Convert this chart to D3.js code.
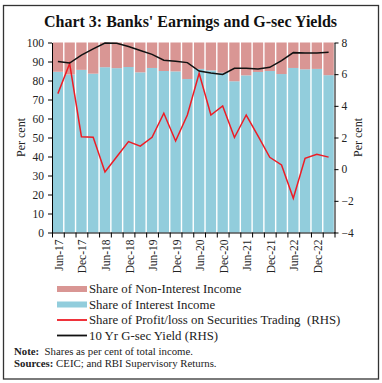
<!DOCTYPE html>
<html lang="en">
<head>
<meta charset="UTF-8">
<title>Chart 3</title>
<script src="https://cdn.jsdelivr.net/npm/d3@7"></script>
<style>
    body { margin: 0; background: #fff; }
    text { font-family: "Liberation Serif", serif; fill: #222; }
    .axis path, .axis line { stroke: #000; stroke-width: 1px; }
    .axis text { font-family: "Liberation Serif", serif; font-size: 11.5px; fill: #222; }
</style>
</head>
<body>
<script>
    // quarters (x axis)
    var quarters = ["Jun-17","Sep-17","Dec-17","Mar-18","Jun-18","Sep-18","Dec-18","Mar-19",
                    "Jun-19","Sep-19","Dec-19","Mar-20","Jun-20","Sep-20","Dec-20","Mar-21",
                    "Jun-21","Sep-21","Dec-21","Mar-22","Jun-22","Sep-22","Dec-22","Mar-23"];
    // share of interest income (per cent)
    var interestShare = [84.6, 83.2, 85.6, 83.6, 87.0, 86.5, 87.1, 84.3, 86.6, 85.0, 84.8, 80.8,
                         86.1, 85.3, 84.1, 79.6, 82.7, 84.5, 85.0, 83.4, 86.6, 85.9, 86.1, 82.8];
    // share of non-interest income (per cent)
    var nonInterestShare = [15.4, 16.8, 14.4, 16.4, 13.0, 13.5, 12.9, 15.7, 13.4, 15.0, 15.2, 19.2,
                            13.9, 14.7, 15.9, 20.4, 17.3, 15.5, 15.0, 16.6, 13.4, 14.1, 13.9, 17.2];
    // share of profit/loss on securities trading (RHS)
    var tradingShare = [4.77, 6.67, 2.05, 2.01, -0.18, 0.78, 1.74, 1.45, 2.01, 3.53, 1.78, 3.42,
                        6.06, 3.42, 3.99, 2.00, 3.42, 2.10, 0.75, 0.27, -1.84, 0.69, 0.94, 0.76];
    // 10 yr G-sec yield (RHS)
    var gsecYield = [6.80, 6.70, 7.20, 7.60, 7.97, 7.95, 7.75, 7.50, 7.25, 6.88, 6.82, 6.73,
                     6.20, 6.08, 5.98, 6.37, 6.37, 6.33, 6.43, 6.86, 7.36, 7.33, 7.34, 7.38];
    var xLabels = quarters.filter(function(d, i){ return i % 2 == 0; });
    var leftTicks = [0,10,20,30,40,50,60,70,80,90,100];
    var rightTicks = [-4,-2,0,2,4,6,8];

    var W = 382, H = 383;
    var mLeft = 52, mRight = 334.5, mTop = 42.5, mBottom = 232.5;

    var svg = d3.select("body").append("svg")
        .attr("width", W).attr("height", H);

    // frame
    svg.append("rect")
        .attr("x", 3.5).attr("y", 5.5).attr("width", 375).attr("height", 373.5)
        .attr("fill", "none").attr("stroke", "#333").attr("stroke-width", 1.3);

    svg.append("text")
        .attr("x", 190.5).attr("y", 26.5)
        .attr("text-anchor", "middle")
        .attr("font-size", "16px").attr("font-weight", "bold")
        .style("fill", "#111")
        .text("Chart 3: Banks' Earnings and G-sec Yields");

    var x = d3.scaleBand().domain(quarters).range([mLeft, mRight])
        .paddingInner(0.12).paddingOuter(0.06);
    var xIdx = d3.scaleLinear().domain([0, quarters.length]).range([mLeft, mRight]);
    var yL = d3.scaleLinear().domain([0, 100]).range([mBottom, mTop]);
    var yR = d3.scaleLinear().domain([-4, 8]).range([mBottom, mTop]);

    var rows = quarters.map(function(q, i){
        return {q: q, interest: interestShare[i], nonInterest: nonInterestShare[i]};
    });
    var stack = d3.stack().keys(["interest", "nonInterest"])(rows);
    var colors = {interest: "#92CDDC", nonInterest: "#D99694"};

    svg.append("g").selectAll("g")
        .data(stack)
        .enter().append("g")
        .attr("fill", function(d){ return colors[d.key]; })
        .selectAll("rect")
        .data(function(d){ return d; })
        .enter().append("rect")
        .attr("x", function(d){ return x(d.data.q); })
        .attr("width", x.bandwidth())
        .attr("y", function(d){ return yL(Math.min(d[1], 100)); })
        .attr("height", function(d){ return yL(d[0]) - yL(Math.min(d[1], 100)); });

    var lineR = d3.line()
        .x(function(d, i){ return x(quarters[i]) + x.bandwidth() / 2; })
        .y(function(d){ return yR(d); });

    svg.append("path").datum(tradingShare)
        .attr("fill", "none").attr("stroke", "#EE1C25").attr("stroke-width", 1.5)
        .attr("d", lineR);
    svg.append("path").datum(gsecYield)
        .attr("fill", "none").attr("stroke", "#111").attr("stroke-width", 1.5)
        .attr("d", lineR);

    // axes
    svg.append("g").attr("class", "axis")
        .attr("transform", "translate(" + mLeft + ",0)")
        .call(d3.axisLeft(yL).tickValues(leftTicks).tickSize(4).tickSizeOuter(0))
        .selectAll("text").attr("dx", "-1");

    svg.append("g").attr("class", "axis")
        .attr("transform", "translate(" + mRight + ",0)")
        .call(d3.axisRight(yR).tickValues(rightTicks).tickSize(4).tickSizeOuter(0)
            .tickFormat(d3.format("d")));

    svg.append("g").attr("class", "axis")
        .attr("transform", "translate(0," + mBottom + ")")
        .call(d3.axisBottom(xIdx).tickValues(d3.range(quarters.length + 1))
            .tickSize(5).tickSizeOuter(0).tickFormat(""));

    svg.append("g").selectAll("text")
        .data(xLabels)
        .enter().append("text")
        .attr("font-size", "11.5px")
        .attr("text-anchor", "end")
        .attr("dominant-baseline", "central")
        .attr("transform", function(d){
            return "translate(" + (x(d) + x.bandwidth() / 2 + 1) + "," + (mBottom + 7) + ") rotate(-90)";
        })
        .text(function(d){ return d; });

    svg.append("text")
        .attr("transform", "translate(25," + ((mTop + mBottom) / 2) + ") rotate(-90)")
        .attr("text-anchor", "middle").attr("font-size", "12px")
        .text("Per cent");
    svg.append("text")
        .attr("transform", "translate(362," + ((mTop + mBottom) / 2) + ") rotate(-90)")
        .attr("text-anchor", "middle").attr("font-size", "12px")
        .text("Per cent");

    // legend
    var legend = [
        {label: "Share of Non-Interest Income", type: "rect", color: "#D99694"},
        {label: "Share of Interest Income", type: "rect", color: "#92CDDC"},
        {label: "Share of Profit/loss on Securities Trading  (RHS)", type: "line", color: "#EE1C25"},
        {label: "10 Yr G-sec Yield (RHS)", type: "line", color: "#111"}
    ];
    var lg = svg.append("g").selectAll("g")
        .data(legend)
        .enter().append("g")
        .attr("transform", function(d, i){ return "translate(57," + (289 + i * 15.5) + ")"; });
    lg.filter(function(d){ return d.type == "rect"; }).append("rect")
        .attr("x", 0).attr("y", -3).attr("width", 30).attr("height", 6)
        .attr("fill", function(d){ return d.color; });
    lg.filter(function(d){ return d.type == "line"; }).append("line")
        .attr("x1", 0).attr("x2", 30).attr("y1", 0).attr("y2", 0)
        .attr("stroke", function(d){ return d.color; }).attr("stroke-width", 1.8);
    lg.append("text")
        .attr("x", 32).attr("y", 4)
        .attr("font-size", "12.8px")
        .style("white-space", "pre")
        .text(function(d){ return d.label; });

    var note = svg.append("text").attr("x", 14).attr("y", 354.5).attr("font-size", "10.8px");
    note.append("tspan").attr("font-weight", "bold").text("Note:");
    note.append("tspan").style("white-space", "pre").text("  Shares as per cent of total income.");
    var src = svg.append("text").attr("x", 14).attr("y", 367).attr("font-size", "10.8px");
    src.append("tspan").attr("font-weight", "bold").text("Sources:");
    src.append("tspan").text(" CEIC; and RBI Supervisory Returns.");
</script>
</body>
</html>
